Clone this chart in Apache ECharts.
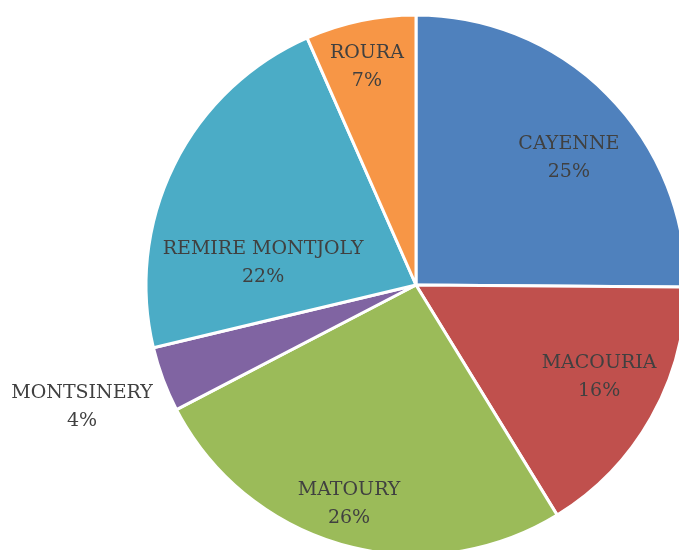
<!DOCTYPE html>
<html>
<head>
<meta charset="utf-8">
<script src="https://cdn.jsdelivr.net/npm/echarts@6/dist/echarts.min.js"></script>
<style>
  html, body { margin: 0; padding: 0; background: #fff; }
  #chart { width: 679px; height: 550px; }
</style>
</head>
<body>
<div id="chart"></div>
<script>
  // communes, valeurs (part en %)
  var communes = ['CAYENNE', 'MACOURIA', 'MATOURY', 'MONTSINERY', 'REMIRE MONTJOLY', 'ROURA']
  var valeurs = [25.1, 16.1, 26.1, 3.9, 22.1, 6.6]
  var couleurs = ['#4F81BD', '#C0504D', '#9BBB59', '#8064A2', '#4BACC6', '#F79646']
  // placement des labels (style "meilleur ajustement") : angle en degrés depuis midi, distance en fraction du rayon
  var labelAngle = [50.2, 116.7, 197, 249.9, 278.2, 347.3]
  var labelRatio = [0.737, 0.759, 0.848, 1.317, 0.572, 0.827]

  var cx = 416, cy = 285, R = 270

  var chart = echarts.init(document.getElementById('chart'))
  var option = {
    animation: false,
    color: couleurs,
    series: [{
      type: 'pie',
      center: [cx, cy],
      radius: R,
      startAngle: 90,
      clockwise: true,
      avoidLabelOverlap: false,
      itemStyle: { borderColor: '#fff', borderWidth: 3 },
      label: {
        show: true,
        position: 'inside',
        formatter: function (p) { return p.name + '\n' + Math.round(p.percent) + '%' },
        fontFamily: 'DejaVu Serif',
        fontSize: 19,
        lineHeight: 28,
        color: '#404040'
      },
      labelLine: { show: false },
      labelLayout: function (params) {
        var i = params.dataIndex
        var a = labelAngle[i] * Math.PI / 180
        return {
          x: cx + Math.sin(a) * R * labelRatio[i],
          y: cy - Math.cos(a) * R * labelRatio[i],
          align: 'center',
          verticalAlign: 'middle'
        }
      },
      data: communes.map(function (n, i) { return { name: n, value: valeurs[i] } })
    }]
  }
  chart.setOption(option)
</script>
</body>
</html>
